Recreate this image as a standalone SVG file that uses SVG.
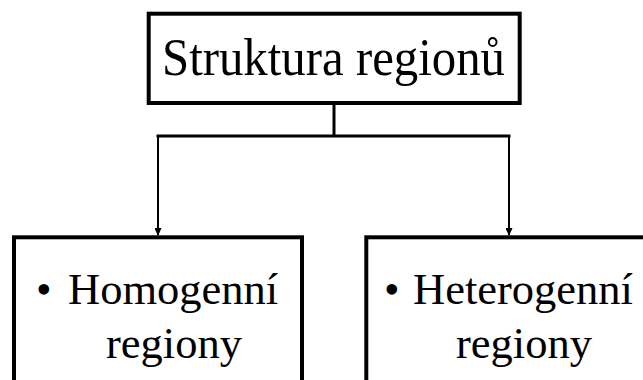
<svg xmlns="http://www.w3.org/2000/svg" width="643" height="380" viewBox="0 0 643 380">
<style>
  .box { fill: #ffffff; stroke: #000000; stroke-width: 4; }
  .lbl { font-family: "Liberation Serif", "Times New Roman", serif; fill: #000000; }
  .t1 { font-size: 53px; }
  .t2 { font-size: 44.5px; }
  .wire { fill: none; stroke: #000000; stroke-width: 3; }
  .drop { fill: none; stroke: #000000; stroke-width: 2; }
</style>
<defs>
  <marker id="arr" markerWidth="8" markerHeight="7" refX="7" refY="3.5" orient="auto" markerUnits="userSpaceOnUse">
    <path d="M0,0 L8,3.5 L0,7 Z" fill="#000000"/>
  </marker>
</defs>
<rect width="643" height="380" fill="#ffffff"/>
<g id="connectors">
  <line class="wire" x1="334" y1="103" x2="334" y2="136"/>
  <line class="wire" x1="156.5" y1="136" x2="510.5" y2="136"/>
  <line class="drop" x1="158" y1="136" x2="158" y2="235" marker-end="url(#arr)"/>
  <line class="drop" x1="509" y1="136" x2="509" y2="235" marker-end="url(#arr)"/>
</g>
<g id="node-root">
  <rect class="box" x="148.7" y="13.7" width="371" height="89.3"/>
  <text class="lbl t1" x="162" y="75" textLength="343" lengthAdjust="spacingAndGlyphs">Struktura regionů</text>
</g>
<g id="node-homogenni">
  <rect class="box" x="14" y="237.3" width="288" height="160"/>
  <text class="lbl t2" y="304"><tspan x="36">•</tspan><tspan x="68">Homogenní</tspan></text>
  <text class="lbl t2" x="106" y="358">regiony</text>
</g>
<g id="node-heterogenni">
  <rect class="box" x="366.3" y="237.3" width="300" height="160"/>
  <text class="lbl t2" y="304"><tspan x="384">•</tspan><tspan x="413">Heterogenní</tspan></text>
  <text class="lbl t2" x="456" y="358">regiony</text>
</g>
</svg>
